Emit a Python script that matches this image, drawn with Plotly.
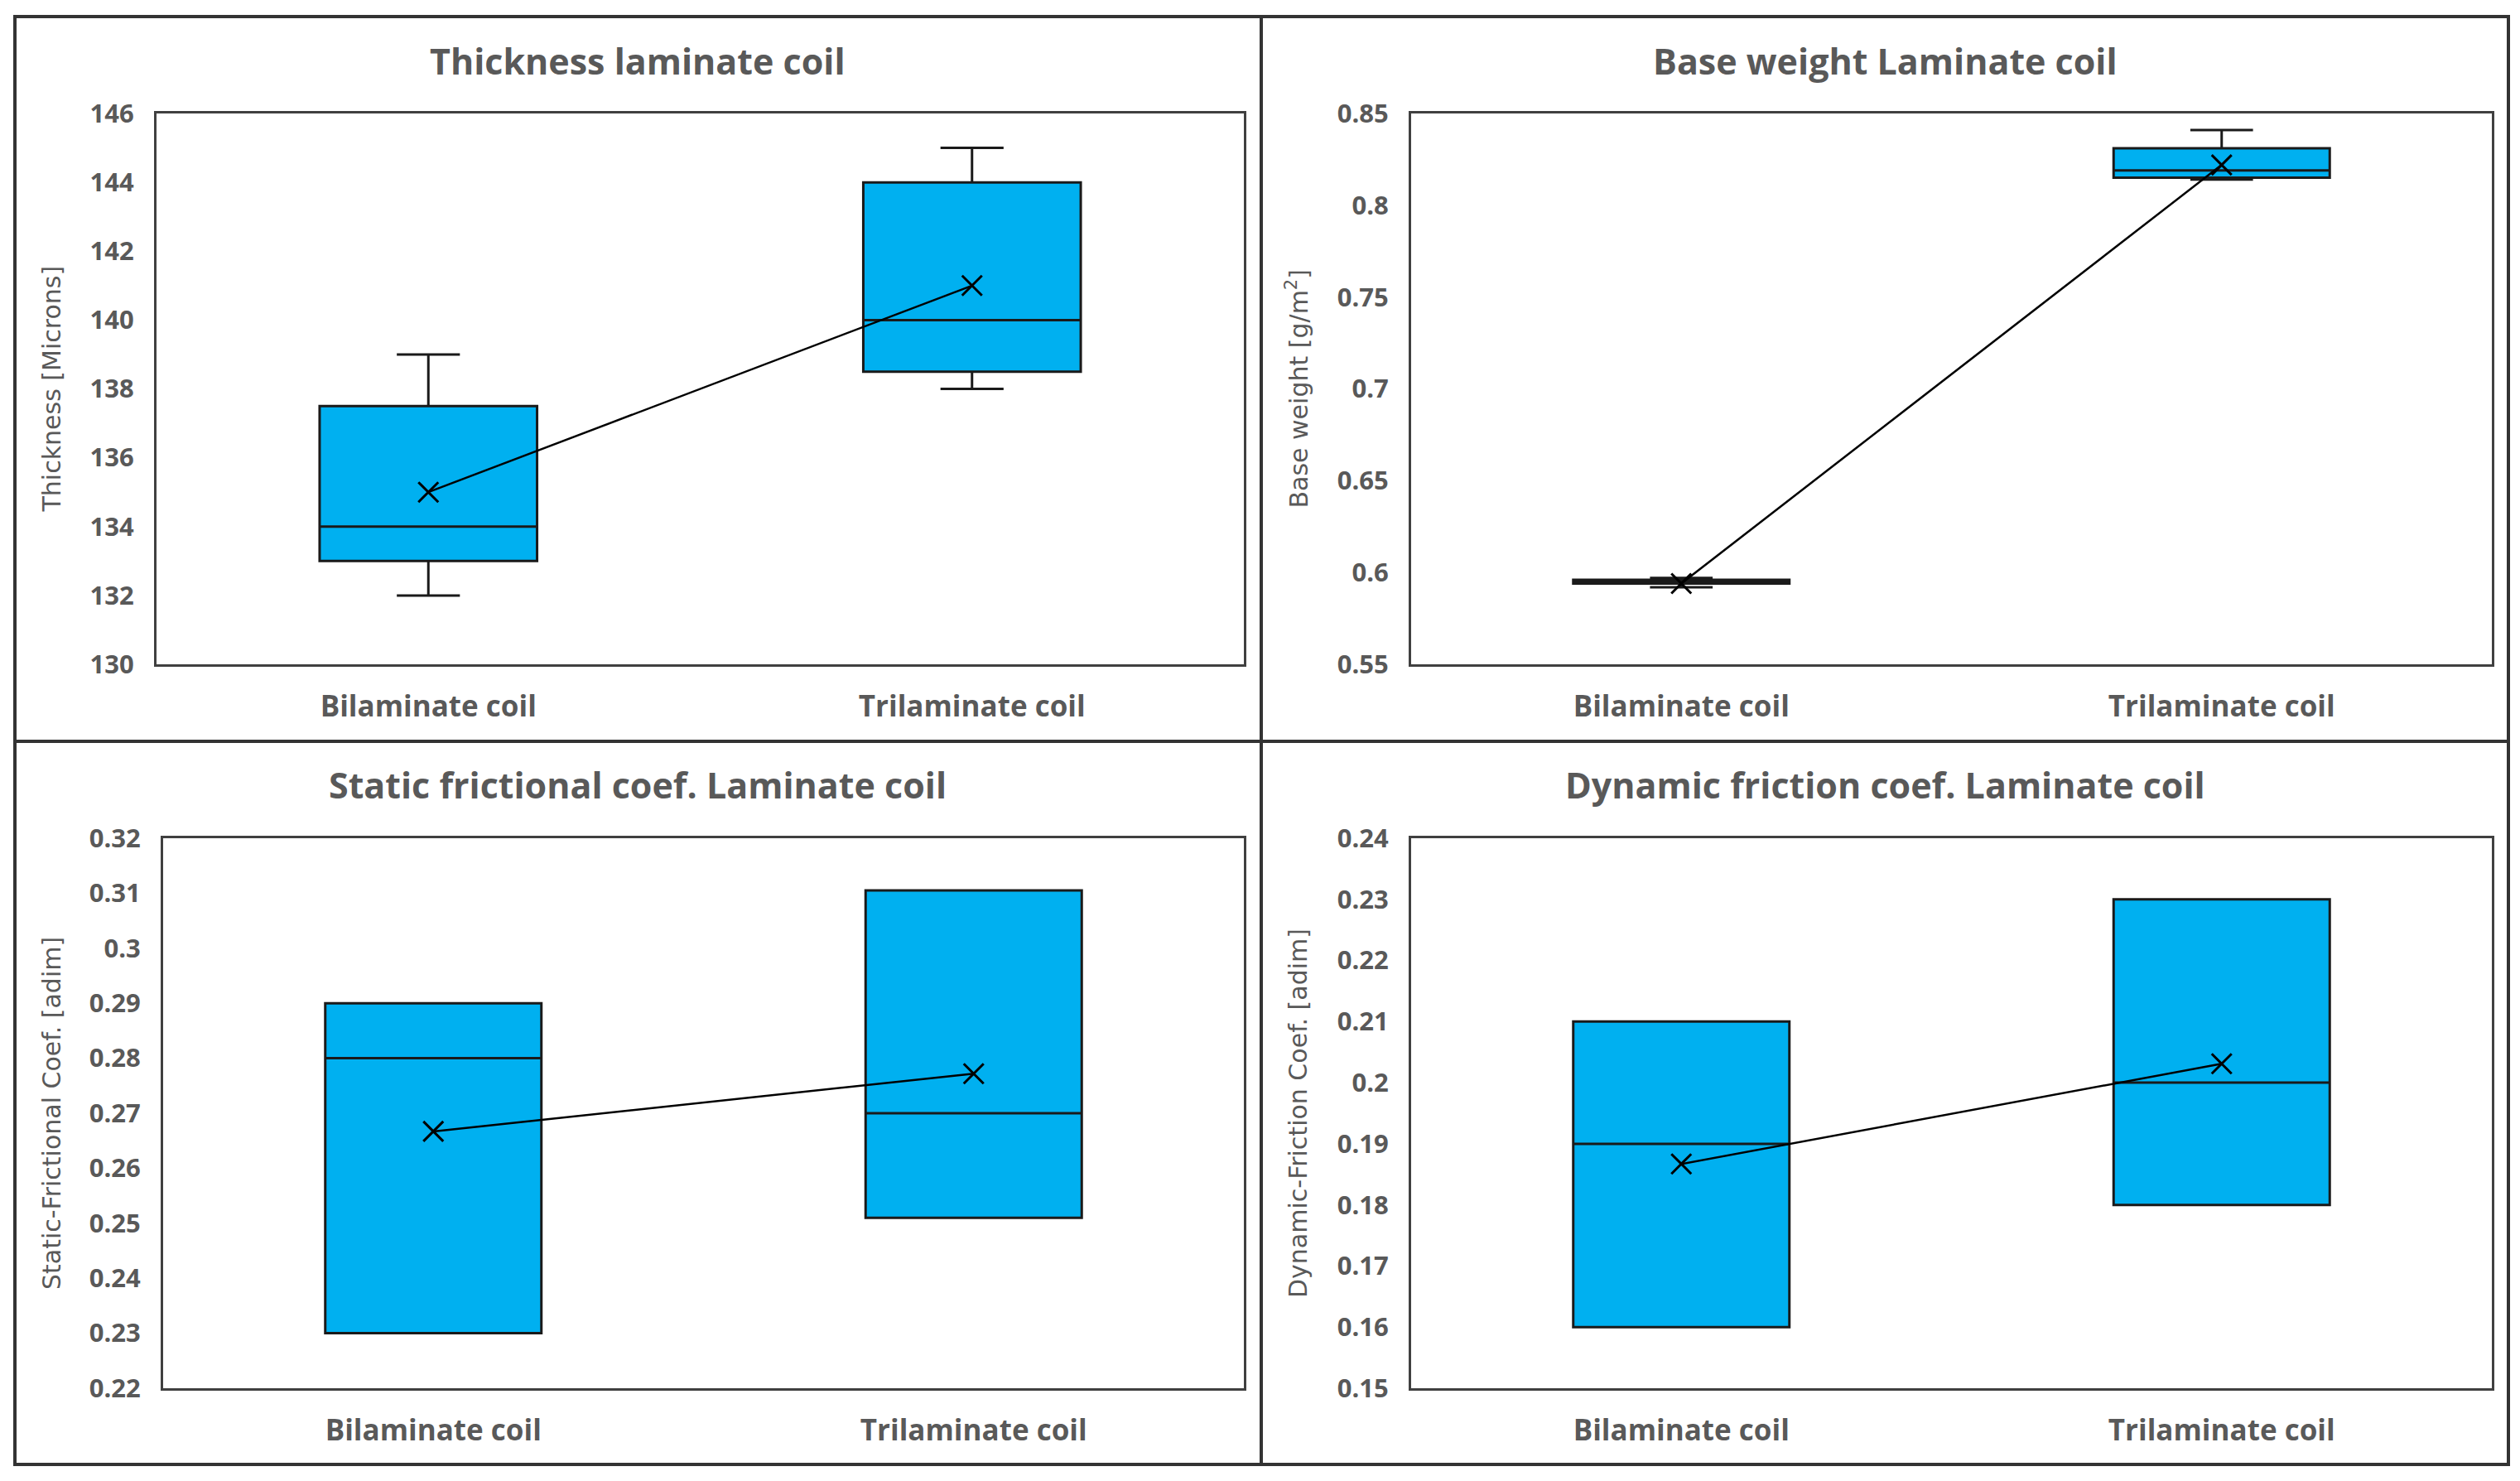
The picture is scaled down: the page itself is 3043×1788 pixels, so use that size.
import plotly.graph_objects as go

W, H = 3043, 1788

categories = ["Bilaminate coil", "Trilaminate coil"]

titles = ["Thickness laminate coil", "Base weight Laminate coil",
          "Static frictional coef. Laminate coil", "Dynamic friction coef. Laminate coil"]
y_titles = ["Thickness [Microns]", "Base weight [g/m<sup>2</sup>]",
            "Static-Frictional Coef. [adim]", "Dynamic-Friction Coef. [adim]"]

# Thickness
th_min = [132, 138]
th_q1 = [133, 138.5]
th_med = [134, 140]
th_q3 = [137.5, 144]
th_max = [139, 145]
th_mean = [135, 141]
th_ticks = [130, 132, 134, 136, 138, 140, 142, 144, 146]
th_ticktext = ["130", "132", "134", "136", "138", "140", "142", "144", "146"]

# Base weight
bw_min = [0.592, 0.814]
bw_q1 = [0.594, 0.815]
bw_med = [0.595, 0.819]
bw_q3 = [0.596, 0.831]
bw_max = [0.597, 0.841]
bw_mean = [0.594, 0.822]
bw_ticks = [0.55, 0.6, 0.65, 0.7, 0.75, 0.8, 0.85]
bw_ticktext = ["0.55", "0.6", "0.65", "0.7", "0.75", "0.8", "0.85"]

# Static friction
sf_min = [0.23, 0.251]
sf_q1 = [0.23, 0.251]
sf_med = [0.28, 0.27]
sf_q3 = [0.29, 0.3105]
sf_max = [0.29, 0.3105]
sf_mean = [0.2667, 0.2772]
sf_ticks = [0.22, 0.23, 0.24, 0.25, 0.26, 0.27, 0.28, 0.29, 0.30, 0.31, 0.32]
sf_ticktext = ["0.22", "0.23", "0.24", "0.25", "0.26", "0.27", "0.28", "0.29", "0.3", "0.31", "0.32"]

# Dynamic friction
df_min = [0.16, 0.18]
df_q1 = [0.16, 0.18]
df_med = [0.19, 0.20]
df_q3 = [0.21, 0.23]
df_max = [0.21, 0.23]
df_mean = [0.1867, 0.2031]
df_ticks = [0.15, 0.16, 0.17, 0.18, 0.19, 0.20, 0.21, 0.22, 0.23, 0.24]
df_ticktext = ["0.15", "0.16", "0.17", "0.18", "0.19", "0.2", "0.21", "0.22", "0.23", "0.24"]

panels = [
    (th_min, th_q1, th_med, th_q3, th_max, th_mean, th_ticks, th_ticktext, [130, 146]),
    (bw_min, bw_q1, bw_med, bw_q3, bw_max, bw_mean, bw_ticks, bw_ticktext, [0.55, 0.85]),
    (sf_min, sf_q1, sf_med, sf_q3, sf_max, sf_mean, sf_ticks, sf_ticktext, [0.22, 0.32]),
    (df_min, df_q1, df_med, df_q3, df_max, df_mean, df_ticks, df_ticktext, [0.15, 0.24]),
]

def px_x(p):
    return p / W

def px_y(p):
    return 1 - p / H

# plot-area pixel boxes (x0, x1, ytop, ybottom)
areas = [
    (189, 1502, 137, 802),
    (1704, 3009, 137, 802),
    (197, 1502, 1012, 1676),
    (1704, 3009, 1012, 1676),
]
title_pos = [(770, 74), (2276, 74), (770, 947), (2276, 947)]
ytitle_x = [62, 1567, 62, 1567]

TXT = "#595959"
BLUE = "#00B0F0"

fig = go.Figure()
layout = dict(
    template="none",
    width=W, height=H, autosize=False,
    margin=dict(l=0, r=0, t=0, b=0, pad=0, autoexpand=False),
    paper_bgcolor="white", plot_bgcolor="white",
    showlegend=False, boxgap=0.6, boxgroupgap=0,
    annotations=[], shapes=[],
)

for i, (mn, q1, med, q3, mx, mean, tv, tt, rng) in enumerate(panels):
    n = "" if i == 0 else str(i + 1)
    xa, ya = "x" + n, "y" + n
    fig.add_trace(go.Box(
        x=categories, q1=q1, median=med, q3=q3, lowerfence=mn, upperfence=mx,
        xaxis=xa, yaxis=ya, fillcolor=BLUE,
        line=dict(color="#1a1a1a", width=3), whiskerwidth=0.29,
        boxpoints=False, hoverinfo="skip",
    ))
    fig.add_trace(go.Scatter(
        x=categories, y=mean, xaxis=xa, yaxis=ya, mode="lines+markers",
        line=dict(color="black", width=2.5),
        marker=dict(symbol="x-thin", size=24, line=dict(color="black", width=3)),
        hoverinfo="skip",
    ))
    x0, x1, yt, yb = areas[i]
    layout["xaxis" + n] = dict(
        domain=[px_x(x0), px_x(x1)], anchor=ya, type="category",
        showline=True, mirror=True, linecolor="#404040", linewidth=3,
        showgrid=False, zeroline=False, ticks="", ticklabelstandoff=18,
        automargin=False,
        tickfont=dict(family="Open Sans", size=35, color=TXT, weight="bold"),
    )
    layout["yaxis" + n] = dict(
        domain=[px_y(yb), px_y(yt)], anchor=xa, range=rng,
        tickvals=tv, ticktext=tt,
        showline=True, mirror=True, linecolor="#404040", linewidth=3,
        showgrid=False, zeroline=False, ticks="", ticklabelstandoff=18,
        automargin=False,
        tickfont=dict(family="Open Sans", size=31, color=TXT, weight="bold"),
    )
    tx, ty = title_pos[i]
    layout["annotations"].append(dict(
        x=px_x(tx), y=px_y(ty), xref="paper", yref="paper", showarrow=False,
        text=titles[i], xanchor="center", yanchor="middle",
        font=dict(family="Open Sans", size=43, color=TXT, weight="bold"),
    ))
    layout["annotations"].append(dict(
        x=px_x(ytitle_x[i]), y=px_y((yt + yb) / 2), xref="paper", yref="paper",
        showarrow=False, text=y_titles[i], textangle=-90,
        xanchor="center", yanchor="middle",
        font=dict(family="DejaVu Sans", size=30, color=TXT),
    ))

frame = dict(color="#333333", width=4)
layout["shapes"] += [
    dict(type="rect", xref="paper", yref="paper",
         x0=px_x(18), x1=px_x(3029), y0=px_y(1768), y1=px_y(20), line=frame),
    dict(type="line", xref="paper", yref="paper",
         x0=px_x(1523), x1=px_x(1523), y0=px_y(1768), y1=px_y(20), line=frame),
    dict(type="line", xref="paper", yref="paper",
         x0=px_x(18), x1=px_x(3029), y0=px_y(895), y1=px_y(895), line=frame),
]

fig.update_layout(**layout)
fig.write_html("out.html", config={"displayModeBar": False},
               post_script="document.body.style.margin='0';document.body.style.overflow='hidden';")
